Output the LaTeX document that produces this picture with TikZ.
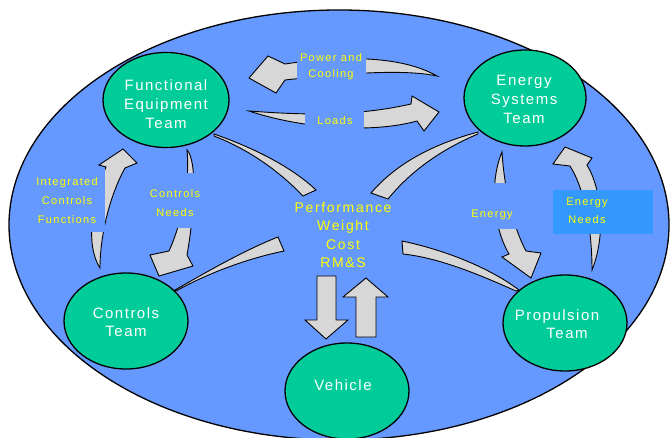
\documentclass[tikz,border=0pt]{standalone}
\usepackage{fontspec}
\setmainfont{Liberation Sans}
\newfontfamily\teamfont[LetterSpace=10]{Liberation Sans}
\newfontfamily\labelfont[LetterSpace=12]{Liberation Sans}
\usetikzlibrary{shapes.geometric}
\definecolor{bgblue}{RGB}{102,153,255}
\definecolor{teamgreen}{RGB}{0,204,153}
\definecolor{arrowgray}{RGB}{215,215,215}
\definecolor{labelyellow}{RGB}{255,255,0}
\definecolor{brightblue}{RGB}{51,153,255}
\begin{document}
\begin{tikzpicture}[x=1pt,y=-1pt,
  team/.style={ellipse, draw=black, line width=1.3pt, fill=teamgreen, inner sep=0pt},
  teamtext/.style={text=white, font=\teamfont\fontsize{15}{19}\selectfont, align=center, inner sep=0pt},
  ylabel/.style={text=labelyellow, font=\labelfont\fontsize{11}{18}\selectfont, align=center, inner sep=0pt},
  blockarrow/.style={fill=arrowgray, draw=black, line width=0.9pt, line join=miter},
]
\useasboundingbox (0,0) rectangle (671,438);
\clip (0,0) rectangle (671,438);
\fill[white] (0,0) rectangle (671,438);
% big ellipse
\draw[fill=bgblue, line width=1.3pt] (339,225) ellipse [x radius=330, y radius=215];

% spokes
\draw[blockarrow] (214,134) .. controls (260,150) and (295,170) .. (316,190) -- (303,196) .. controls (280,172) and (250,150) .. (214,136) -- cycle;
\draw[blockarrow] (478,132) .. controls (430,145) and (395,165) .. (371,193) -- (388,199) .. controls (410,172) and (440,150) .. (478,134) -- cycle;
\draw[blockarrow] (175,290) .. controls (210,270) and (245,250) .. (278,237) -- (284,251) .. controls (250,258) and (210,272) .. (176,291) -- cycle;
\draw[blockarrow] (402,241) .. controls (445,250) and (490,268) .. (519,290) -- (516,291) .. controls (480,275) and (440,258) .. (403,254) -- cycle;

% Power and Cooling (Energy -> Functional)
\draw[blockarrow] (437,76) .. controls (395,52) and (325,58) .. (285,64) -- (268,56) -- (249,78) -- (276,93) -- (285,80) .. controls (330,75) and (400,68) .. (437,76) -- cycle;
% Loads (Functional -> Energy)
\draw[blockarrow] (249,111) .. controls (290,114) and (350,118) .. (411,104) -- (412,96) -- (439,112) -- (424,131) -- (417,121) .. controls (370,134) and (300,128) .. (249,111) -- cycle;
% Controls Needs (Functional -> Controls)
\draw[blockarrow] (187,150) .. controls (197,160) and (195,210) .. (187,255) -- (193,266) -- (159,276) -- (150,255) -- (169,251) .. controls (183,220) and (190,180) .. (187,150) -- cycle;
% Integrated Controls Functions (Controls -> Functional)
\draw[blockarrow] (100,268) .. controls (85,245) and (92,200) .. (106,167) -- (99,165) -- (123,149) -- (137,163) -- (125,168) .. controls (110,195) and (100,235) .. (100,268) -- cycle;
% Energy (Energy -> Propulsion)
\draw[blockarrow] (502,152) .. controls (490,180) and (492,225) .. (509,254) -- (502,257) -- (531,278) -- (541,253) -- (526,251) .. controls (512,225) and (504,185) .. (502,152) -- cycle;
% Energy Needs (Propulsion -> Energy)
\draw[blockarrow] (592,270) .. controls (606,235) and (602,190) .. (587,165) -- (592,158) -- (565,147) -- (553,164) -- (570,166) .. controls (585,190) and (592,230) .. (592,270) -- cycle;
% vertical arrows
\draw[blockarrow] (317,276) -- (336,276) -- (336,320) -- (348,320) -- (326,339) -- (305,320) -- (317,320) -- cycle;
\draw[blockarrow] (356,337) -- (376,337) -- (376,297) -- (388,297) -- (366,278) -- (343,297) -- (356,297) -- cycle;

% label backgrounds
\fill[bgblue] (297,47) rectangle (366,88);
\fill[bgblue] (305,108) rectangle (364,135);
\fill[bgblue] (33,168) rectangle (105,232);
\fill[bgblue] (145,173) rectangle (205,228);
\fill[bgblue] (466,183) rectangle (519,229);
\fill[brightblue] (553,190) rectangle (653,234);

% labels
\node[ylabel, font=\labelfont\fontsize{11}{16}\selectfont] (lpc) at (331,67) {Power and\\Cooling};
\node[ylabel, anchor=base] (lloads) at (335,125) {Loads};
\node[ylabel, font=\labelfont\fontsize{11}{19}\selectfont] (licf) at (67,201) {Integrated\\Controls\\Functions};
\node[ylabel, font=\labelfont\fontsize{11}{19}\selectfont] (lcn) at (175,203) {Controls\\Needs};
\node[ylabel, anchor=base] (lenergy) at (492,218) {Energy};
\node[ylabel, font=\labelfont\fontsize{11}{18}\selectfont] (len) at (587,211) {Energy\\Needs};

% teams
\node[team, minimum width=126pt, minimum height=95pt] (fet) at (166,100) {};
\node[team, minimum width=122pt, minimum height=96pt] (est) at (525,98) {};
\node[team, minimum width=124pt, minimum height=96pt] (ct) at (126,321) {};
\node[team, minimum width=124pt, minimum height=96pt] (pt) at (565,323) {};
\node[team, minimum width=124pt, minimum height=96pt] (veh) at (347,391) {};

\node[teamtext] (fetT) at (166,104) {Functional\\Equipment\\Team};
\node[teamtext] (estT) at (524,99) {Energy\\Systems\\Team};
\node[teamtext, font=\teamfont\fontsize{15}{18}\selectfont] (ctT) at (126,322) {Controls\\Team};
\node[teamtext, anchor=base] (ptT1) at (557,320) {Propulsion};
\node[teamtext, anchor=base] (ptT2) at (567,338) {Team};
\node[teamtext, anchor=base] (vehT) at (343,390) {Vehicle};

% center
\node[ylabel, font=\labelfont\fontsize{14}{18.5}\selectfont] (center) at (343,235) {Performance\\Weight\\Cost\\RM\&S};
\end{tikzpicture}
\end{document}
